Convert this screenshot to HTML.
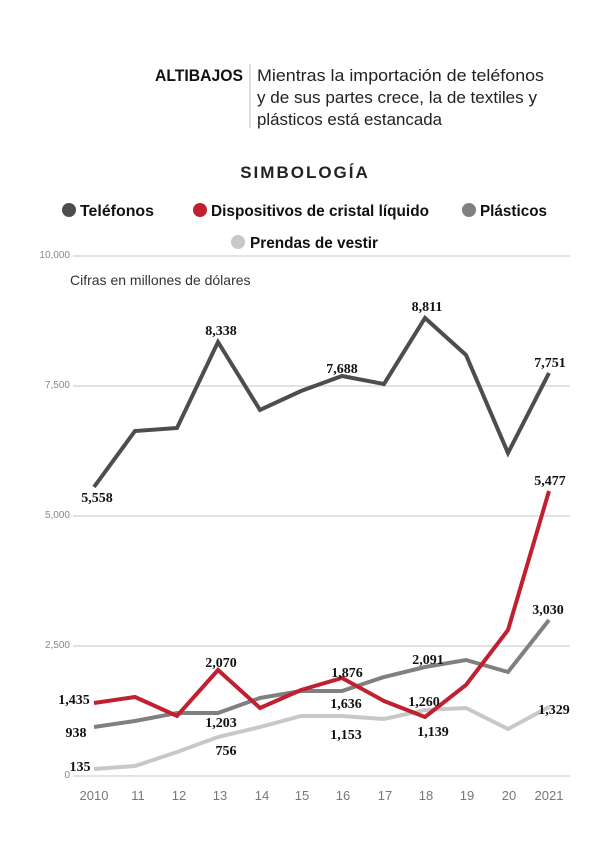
<!DOCTYPE html>
<html><head><meta charset="utf-8"><style>body{margin:0;background:#fff}svg{display:block}</style></head><body>
<svg width="610" height="855" xmlns="http://www.w3.org/2000/svg" font-family="Liberation Sans, sans-serif">
<text x="155" y="81" font-size="17" font-weight="bold" fill="#111" textLength="88" lengthAdjust="spacingAndGlyphs">ALTIBAJOS</text>
<line x1="250" y1="64" x2="250" y2="128" stroke="#bbb" stroke-width="1"/>
<g font-size="17" fill="#222">
<text x="257" y="81" textLength="287" lengthAdjust="spacingAndGlyphs">Mientras la importación de teléfonos</text>
<text x="257" y="103" textLength="280" lengthAdjust="spacingAndGlyphs">y de sus partes crece, la de textiles y</text>
<text x="257" y="125" textLength="185" lengthAdjust="spacingAndGlyphs">plásticos está estancada</text>
</g>
<text x="305" y="178" font-size="17" font-weight="bold" fill="#222" text-anchor="middle" letter-spacing="2">SIMBOLOGÍA</text>
<g font-size="16" font-weight="bold" fill="#111">
<circle cx="69" cy="210" r="7" fill="#4d4d4f"/><text x="80" y="216" textLength="74" lengthAdjust="spacingAndGlyphs">Teléfonos</text>
<circle cx="200" cy="210" r="7" fill="#c0202f"/><text x="211" y="216" textLength="218" lengthAdjust="spacingAndGlyphs">Dispositivos de cristal líquido</text>
<circle cx="469" cy="210" r="7" fill="#808080"/><text x="480" y="216" textLength="67" lengthAdjust="spacingAndGlyphs">Plásticos</text>
<circle cx="238" cy="242" r="7" fill="#c8c8c8"/><text x="250" y="248" textLength="128" lengthAdjust="spacingAndGlyphs">Prendas de vestir</text>
</g>
<g stroke="#d9d9d9" stroke-width="1.5">
<line x1="73" y1="256" x2="570" y2="256"/><line x1="73" y1="386" x2="570" y2="386"/><line x1="73" y1="516" x2="570" y2="516"/><line x1="73" y1="646" x2="570" y2="646"/><line x1="73" y1="776" x2="570" y2="776"/>
</g>
<g font-size="10" fill="#888" text-anchor="end">
<text x="70" y="258">10,000</text><text x="70" y="388">7,500</text><text x="70" y="518">5,000</text><text x="70" y="648">2,500</text><text x="70" y="778">0</text>
</g>
<text x="70" y="285" font-size="14" fill="#333">Cifras en millones de dólares</text>
<g fill="none" stroke-width="4" stroke-linejoin="miter">
<polyline stroke="#c8c8c8" points="94,769 135,766 177,752 218,737 260,727 301,716 342,716 384,719 425,710 466,708 508,729 549,707"/>
<polyline stroke="#808080" points="94,727 135,721 177,713 218,713 260,698 301,691 342,691 384,677 425,667 466,660 508,672 549,620"/>
<polyline stroke="#c0202f" points="94,703 135,697 177,716 218,670 260,708 301,690 342,678 384,701 425,717 466,685 508,630 549,491"/>
<polyline stroke="#4d4d4f" points="94,487 135,431 177,428 218,342 260,410 301,391 342,376 384,384 425,318 466,355 508,453 549,373"/>
</g>
<g font-family="Liberation Serif, serif" font-weight="bold" font-size="14" fill="#111" text-anchor="middle">
<text x="97" y="502">5,558</text><text x="221" y="335">8,338</text><text x="342" y="373">7,688</text><text x="427" y="311">8,811</text><text x="550" y="367">7,751</text>
<text x="550" y="485">5,477</text><text x="548" y="614">3,030</text><text x="554" y="714">1,329</text>
<text x="74" y="704">1,435</text><text x="76" y="737">938</text><text x="80" y="771">135</text>
<text x="221" y="667">2,070</text><text x="221" y="727">1,203</text><text x="226" y="755">756</text>
<text x="347" y="677">1,876</text><text x="346" y="708">1,636</text><text x="346" y="739">1,153</text>
<text x="428" y="664">2,091</text><text x="424" y="706">1,260</text><text x="433" y="736">1,139</text>
</g>
<g font-size="13" fill="#777" text-anchor="middle">
<text x="94" y="800">2010</text><text x="138" y="800">11</text><text x="179" y="800">12</text><text x="220" y="800">13</text><text x="262" y="800">14</text><text x="302" y="800">15</text><text x="343" y="800">16</text><text x="385" y="800">17</text><text x="426" y="800">18</text><text x="467" y="800">19</text><text x="509" y="800">20</text><text x="549" y="800">2021</text>
</g>
</svg>
</body></html>
